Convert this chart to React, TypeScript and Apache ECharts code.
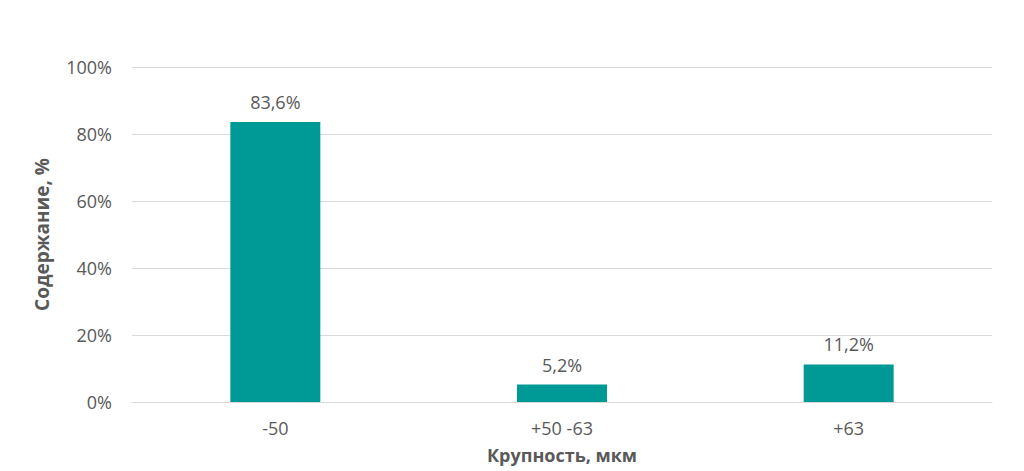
import React, { useEffect, useRef } from 'react';
import * as echarts from 'echarts';

const categories = ['-50', '+50 -63', '+63'];
const values = [83.6, 5.2, 11.2];
const yTicks = { min: 0, max: 100, interval: 20 };

const FONT = '"Open Sans", "Liberation Sans", sans-serif';
const TEXT = '#595959';

const App: React.FC = () => {
  const chartRef = useRef<HTMLDivElement>(null);

  useEffect(() => {
    if (!chartRef.current) return;
    const chart = echarts.init(chartRef.current, undefined, { renderer: 'svg' });
    chart.setOption({
      animation: false,
      textStyle: { fontFamily: FONT },
      grid: { left: 132, right: 32, top: 67, bottom: 69 },
      xAxis: {
        type: 'category',
        data: categories,
        axisLine: { lineStyle: { color: '#d9d9d9', width: 1 } },
        axisTick: { show: false },
        axisLabel: { color: TEXT, fontSize: 18, fontFamily: FONT, margin: 17 },
        name: 'Крупность, мкм',
        nameLocation: 'middle',
        nameGap: 44,
        nameTextStyle: { color: TEXT, fontSize: 18, fontWeight: 'bold', fontFamily: FONT },
      },
      yAxis: {
        type: 'value',
        min: yTicks.min,
        max: yTicks.max,
        interval: yTicks.interval,
        axisLine: { show: false },
        axisTick: { show: false },
        splitLine: { lineStyle: { color: '#d9d9d9', width: 1 } },
        axisLabel: {
          color: TEXT,
          fontSize: 18,
          fontFamily: FONT,
          margin: 20,
          formatter: (v: number) => `${v}%`,
        },
        name: 'Содержание, %',
        nameLocation: 'middle',
        nameGap: 81,
        nameTextStyle: { color: TEXT, fontSize: 19, fontWeight: 'bold', fontFamily: FONT },
      },
      series: [
        {
          type: 'bar',
          data: values,
          barWidth: 90,
          itemStyle: { color: '#009a96' },
          label: {
            show: true,
            position: 'top',
            distance: 11,
            color: TEXT,
            fontSize: 18,
            fontFamily: FONT,
            formatter: (p: any) => `${String(p.value).replace('.', ',')}%`,
          },
        },
      ],
    });
    return () => chart.dispose();
  }, []);

  return (
    <div
      ref={chartRef}
      style={{ position: 'fixed', left: 0, top: 0, width: '1024px', height: '471px', background: '#fff' }}
    />
  );
};

export default App;
